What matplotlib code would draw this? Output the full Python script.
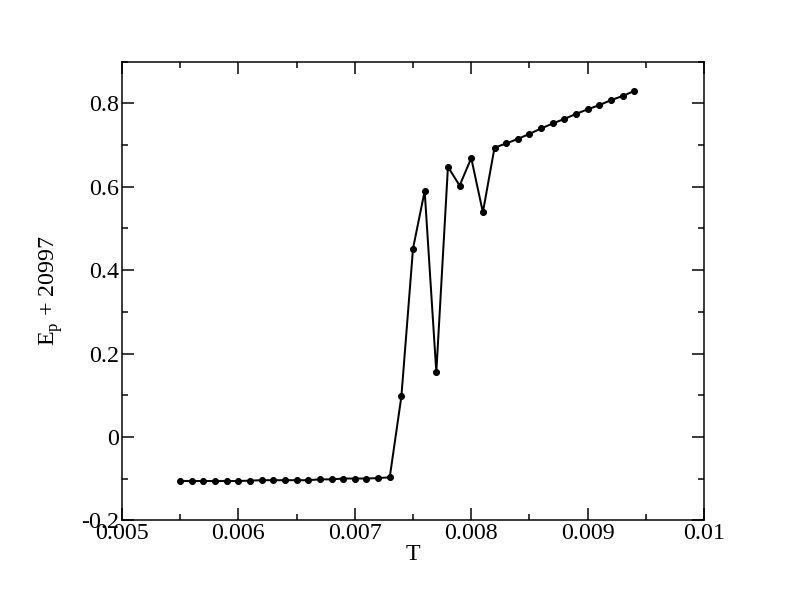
import numpy as np
import matplotlib.pyplot as plt
from matplotlib.ticker import MultipleLocator

# temperatures and shifted potential energy
T = np.round(np.arange(0.0055, 0.00945, 0.0001), 4)
Ep = [-0.106, -0.106, -0.106, -0.106, -0.106, -0.106, -0.105,
      -0.104, -0.104, -0.104, -0.104, -0.104, -0.102, -0.102,
      -0.100, -0.100, -0.100, -0.099, -0.097,
      0.097, 0.452, 0.590, 0.155, 0.648, 0.603, 0.669, 0.539,
      0.694, 0.704, 0.715, 0.727, 0.740, 0.752, 0.763, 0.775,
      0.786, 0.796, 0.808, 0.818, 0.830]

plt.rcParams['font.family'] = ['Liberation Serif', 'DejaVu Serif']
plt.rcParams['mathtext.fontset'] = 'custom'
plt.rcParams['mathtext.rm'] = 'Liberation Serif'

fig = plt.figure(figsize=(11, 8.5), dpi=72)
ax = fig.add_axes([0.154, 0.150, 0.735, 0.749])

ax.plot(T, Ep, color='black', linewidth=2, marker='o', markersize=6)

ax.set_xlim(0.005, 0.01)
ax.set_ylim(-0.2, 0.9)
ax.xaxis.set_minor_locator(MultipleLocator(0.0005))
ax.yaxis.set_minor_locator(MultipleLocator(0.1))
ax.set_xticks([0.005, 0.006, 0.007, 0.008, 0.009, 0.01])
ax.set_xticklabels(['0.005', '0.006', '0.007', '0.008', '0.009', '0.01'])
ax.set_yticks([-0.2, 0, 0.2, 0.4, 0.6, 0.8])
ax.set_yticklabels(['-0.2', '0', '0.2', '0.4', '0.6', '0.8'])

ax.tick_params(which='both', direction='in', top=True, right=True, width=1.5)
ax.tick_params(which='major', length=12, labelsize=24, pad=3)
ax.tick_params(which='minor', length=6)
for s in ax.spines.values():
    s.set_linewidth(1.5)

ax.set_xlabel('T', fontsize=24, labelpad=0)
ax.set_ylabel(r'E$_\mathrm{p}$ + 20997', fontsize=24, labelpad=16)

fig.savefig('out.png', dpi=72)
